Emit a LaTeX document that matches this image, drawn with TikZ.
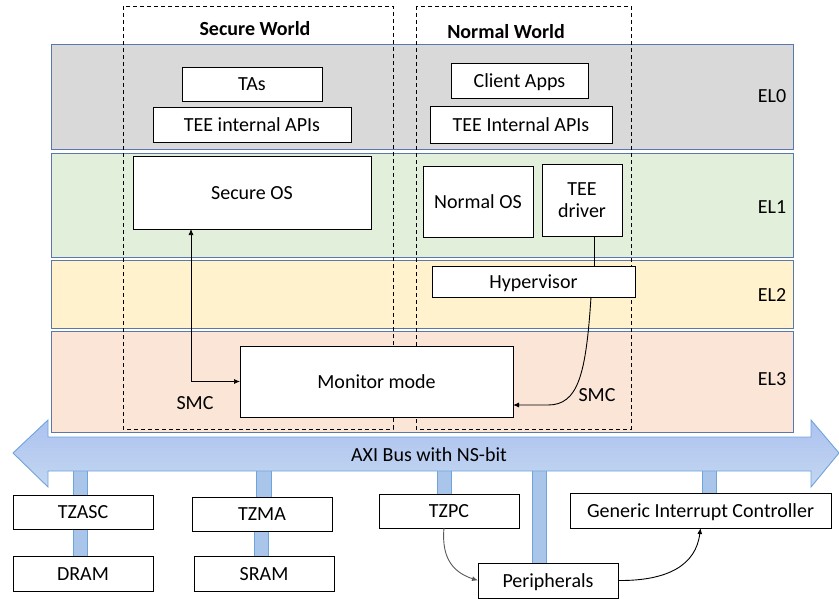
\documentclass[tikz,border=0pt]{standalone}
\usepackage{fontspec}
\setmainfont{Carlito}
\usetikzlibrary{arrows.meta,calc}
\definecolor{elzero}{HTML}{D9D9D9}
\definecolor{elone}{HTML}{E2EFDA}
\definecolor{eltwo}{HTML}{FFF2CC}
\definecolor{elthree}{HTML}{FBE5D6}
\definecolor{bandline}{HTML}{5B78AE}
\definecolor{busfill}{HTML}{A9C6EA}
\definecolor{busline}{HTML}{6FA3DC}
\definecolor{arrowgray}{HTML}{595959}
\newcommand{\diagfont}{\fontsize{20}{22}\selectfont}
\tikzset{
  band/.style={draw=bandline, line width=0.9pt},
  world/.style={draw=black, dashed, dash pattern=on 4pt off 3pt, line width=0.8pt},
  box/.style={draw=black, fill=white, line width=0.8pt, inner sep=0pt, outer sep=0pt,
              font=\diagfont, align=center, text height=13pt, text depth=0pt},
  lbl/.style={font=\diagfont, inner sep=0pt, text height=13pt, text depth=0pt},
  bar/.style={draw=busline, line width=0.9pt, double=busfill, double distance=13.5pt},
  tip/.style={-{Latex[length=6pt,width=5pt]}},
}
\begin{document}
\begin{tikzpicture}[x=1pt,y=-1pt]
\useasboundingbox (0,0) rectangle (839,598);

% exception level bands
\draw[band, fill=elzero]  (51,44)  rectangle (793,149);
\draw[band, fill=elone]   (51,153) rectangle (793,257);
\draw[band, fill=eltwo]   (51,260) rectangle (793,328);
\draw[band, fill=elthree] (51,331) rectangle (793,432);
\node[lbl] (el0) at (772,96)  {EL0};
\node[lbl] (el1) at (772,207) {EL1};
\node[lbl] (el2) at (772,295) {EL2};
\node[lbl] (el3) at (772,379) {EL3};

% the two worlds
\draw[world] (123,6) rectangle (393,429);
\draw[world] (416,6) rectangle (631,429);
\node[lbl, font=\diagfont\bfseries] (sw) at (255,29) {Secure World};
\node[lbl, font=\diagfont\bfseries] (nw) at (506,32) {Normal World};

% secure world software
\node[box, minimum width=140pt, minimum height=34pt] (tas) at (252,84) {TAs};
\node[box, minimum width=198pt, minimum height=35pt] (sapi) at (252,124.5) {TEE internal APIs};
\node[box, minimum width=238pt, minimum height=73pt] (sos) at (252,192.5) {Secure OS};

% normal world software
\node[box, minimum width=137pt, minimum height=35pt] (capp) at (519.5,80.5) {Client Apps};
\node[box, minimum width=182pt, minimum height=37pt] (napi) at (521,124.5) {TEE Internal APIs};
\node[box, minimum width=110pt, minimum height=71pt] (nos) at (478,201.5) {Normal OS};
\node[box, minimum width=80pt, minimum height=72pt, text height=, text depth=] (drv) at (582,200) {TEE\\driver};
\node[box, minimum width=203pt, minimum height=31pt] (hyp) at (533.5,281.5) {Hypervisor};
\node[box, minimum width=273pt, minimum height=71pt] (mon) at (376.5,381.5) {Monitor mode};

% secure monitor calls
\coordinate (sosout) at ($(sos.south)+(-61,0)$);
\draw[{Latex[length=6pt,width=5pt]}-{Latex[length=6pt,width=5pt]}, line width=0.7pt]
  (sosout) |- (mon.west);
\node[lbl] (smcs) at (195,403) {SMC};

\coordinate (drvout) at ($(drv.south)+(12,0)$);
\draw[line width=0.9pt] (drvout) -- (drvout |- hyp.north);
\coordinate (hypout) at ($(hyp.south)+(57.5,0)$);
\coordinate (monin) at ($(mon.east)+(0,23.5)$);
\draw[tip, line width=0.9pt] (hypout) .. controls (586,375) and (578,405) .. (548,405) -- (monin);
\node[lbl] (smcn) at (597,395) {SMC};

% bus stubs
\draw[bar] (80.5,471) -- (80.5,495);
\draw[bar] (80.5,529) -- (80.5,556);
\draw[bar] (264,471) -- (264,497);
\draw[bar] (261.5,531) -- (261.5,556);
\draw[bar] (444.5,471) -- (444.5,494);
\draw[bar] (539.5,470) -- (539.5,563);
\draw[bar] (709.5,471) -- (709.5,493);

% AXI bus
\path[draw=busline, line width=0.9pt, top color=busfill!90!blue!80!white, bottom color=busfill!70!white]
  (13,453) -- (48,420) -- (48,437) -- (811,437) -- (811,420) -- (839,453)
  -- (811,487) -- (811,471) -- (48,471) -- (48,487) -- cycle;
\node[lbl] (bus) at (429,455) {AXI Bus with NS-bit};

% memory and peripheral controllers
\node[box, minimum width=140pt, minimum height=34pt] (tzasc) at (83,512) {TZASC};
\node[box, minimum width=140pt, minimum height=35pt] (dram) at (83,573.5) {DRAM};
\node[box, minimum width=140pt, minimum height=34pt] (tzma) at (262,514) {TZMA};
\node[box, minimum width=140pt, minimum height=35pt] (sram) at (264,573.5) {SRAM};
\node[box, minimum width=140pt, minimum height=34pt] (tzpc) at (449,511) {TZPC};
\node[box, minimum width=140pt, minimum height=35pt] (per) at (548,580.5) {Peripherals};
\node[box, minimum width=261pt, minimum height=35pt] (gic) at (700.5,510.5) {Generic Interrupt Controller};

\coordinate (tzpcout) at ($(tzpc.south)+(-5,0)$);
\draw[tip, draw=arrowgray, line width=0.9pt] (tzpcout) .. controls (441,560) and (455,573) .. (per.west);
\draw[tip, line width=0.9pt] (per.east) .. controls (668,581) and (696,565) .. (gic.south);
\end{tikzpicture}
\end{document}
